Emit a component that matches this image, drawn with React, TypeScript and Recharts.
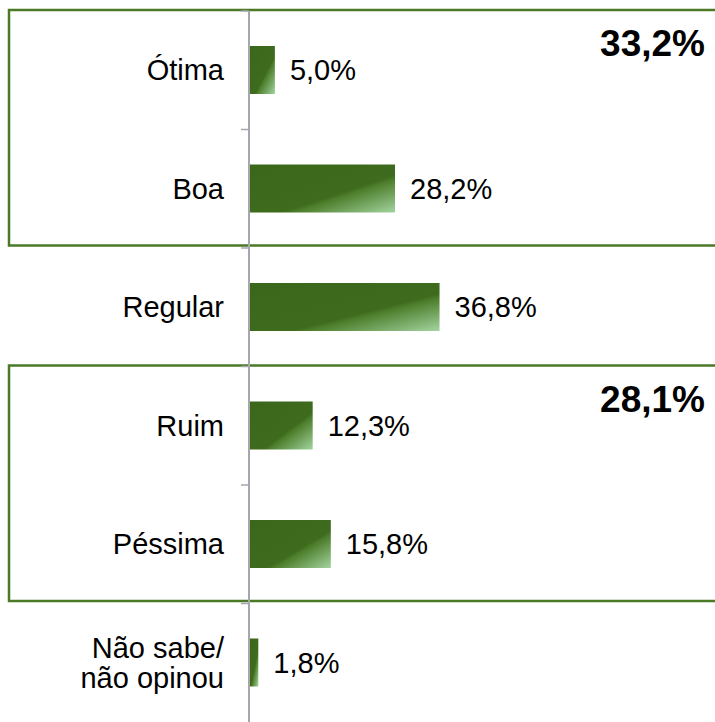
import React from 'react';
import { BarChart, Bar, XAxis, YAxis, ReferenceArea, LabelList } from 'recharts';

const categories = ['Ótima', 'Boa', 'Regular', 'Ruim', 'Péssima', 'Não sabe/\nnão opinou'];
const values = [5.0, 28.2, 36.8, 12.3, 15.8, 1.8];
const groupStarts = ['Ótima', 'Ruim'];
const groupEnds = ['Boa', 'Péssima'];
const groupTotals = ['33,2%', '28,1%'];
const xDomain = [0, 90];

const data = categories.map((name, i) => ({ name, value: values[i] }));

const W = 715;
const H = 722;
const M = { top: 11, right: 0, bottom: 0, left: 0 };
const YW = 249;
const step = (H - M.top - M.bottom) / categories.length;
const FONT = '"Liberation Sans", Arial, sans-serif';
const GREEN_LINE = '#4b7a27';
const AXIS_GRAY = '#a6a6ae';

const fmt = (v: number) => v.toFixed(1).replace('.', ',') + '%';

function CatTick(props: any) {
  const { y, payload } = props;
  const lines = String(payload.value).split('\n');
  const lh = 30;
  const axisX = YW;
  return (
    <g>
      <line x1={axisX - 8} x2={axisX} y1={y - step / 2} y2={y - step / 2} stroke={AXIS_GRAY} strokeWidth={1.5} />
      <text
        x={axisX - 25}
        y={y}
        textAnchor="end"
        fontFamily={FONT}
        fontSize={29}
        fill="#000"
      >
        {lines.map((l, i) => (
          <tspan key={i} x={axisX - 25} dy={i === 0 ? -((lines.length - 1) * lh) / 2 + 10 : lh}>
            {l}
          </tspan>
        ))}
      </text>
    </g>
  );
}

function makeBox(total: string) {
  return (p: any) => {
    const { y, height } = p;
    const top = y - 1;
    const h = height - 1.5;
    return (
      <g>
        <rect x={9} y={top} width={W + 20} height={h} fill="none" stroke={GREEN_LINE} strokeWidth={2.5} />
        <text x={W - 10} y={top + 46} textAnchor="end" fontFamily={FONT} fontWeight="bold" fontSize={37} fill="#000">
          {total}
        </text>
      </g>
    );
  };
}

export default function App() {
  return (
    <div style={{ position: 'absolute', left: 0, top: 0, background: '#fff' }}>
      <BarChart width={W} height={H} data={data} layout="vertical" margin={M}>
        <defs>
          <linearGradient id="barGrad" x1="0" y1="0" x2="1" y2="1">
            <stop offset="0" stopColor="#3b671b" />
            <stop offset="0.61" stopColor="#3e6b1d" />
            <stop offset="0.65" stopColor="#4c7d2a" />
            <stop offset="1" stopColor="#a3d4a0" />
          </linearGradient>
        </defs>
        <XAxis type="number" domain={xDomain} hide />
        <YAxis
          type="category"
          dataKey="name"
          width={YW}
          interval={0}
          tickLine={false}
          axisLine={{ stroke: AXIS_GRAY, strokeWidth: 2 }}
          tick={<CatTick />}
        />
        {groupStarts.map((g, i) => (
          <ReferenceArea
            key={g}
            y1={g}
            y2={groupEnds[i]}
            ifOverflow="visible"
            shape={makeBox(groupTotals[i])}
          />
        ))}
        <Bar dataKey="value" fill="url(#barGrad)" barSize={48} isAnimationActive={false}>
          <LabelList
            dataKey="value"
            position="right"
            offset={15}
            formatter={(v: any) => fmt(Number(v))}
            style={{ fontFamily: FONT, fontSize: 29, fill: '#000' }}
          />
        </Bar>
      </BarChart>
    </div>
  );
}
